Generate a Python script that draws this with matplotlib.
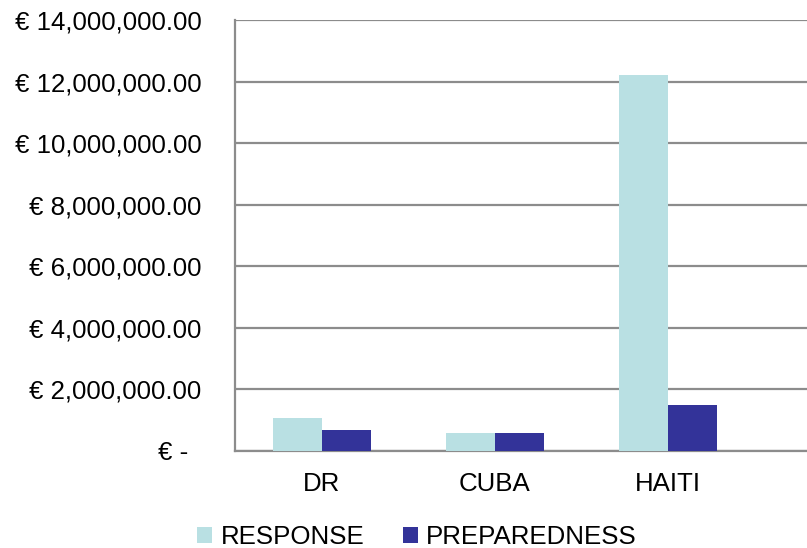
import matplotlib
matplotlib.use('Agg')
import matplotlib.pyplot as plt
import matplotlib.transforms as mtransforms
import numpy as np

plt.rcParams['font.family'] = ['Liberation Sans', 'DejaVu Sans']

# data
countries = ['DR', 'CUBA', 'HAITI']
response = [1080000, 590000, 12210000]
preparedness = [690000, 590000, 1490000]
series_names = ['RESPONSE', 'PREPAREDNESS']
yticks = [0, 2000000, 4000000, 6000000, 8000000, 10000000, 12000000, 14000000]

resp_color = '#b9e0e3'
prep_color = '#333399'
line_color = '#8c8c8c'

fig = plt.figure(figsize=(8.07, 5.48), dpi=100)
ax = fig.add_axes([235/807, 1-451/548, 1-235/807, 431/548])

x = np.arange(len(countries))
w = 0.283
ax.bar(x - w/2, response, width=w, color=resp_color, label=series_names[0], zorder=3)
ax.bar(x + w/2, preparedness, width=w, color=prep_color, label=series_names[1], zorder=3)

ax.set_xlim(-0.5, -0.5 + 572/173.3)
ax.set_ylim(0, 14000000)
ax.set_yticks(yticks)
labels = ['€ -' if v == 0 else '€ {:,.2f}'.format(v) for v in yticks]
ax.set_yticklabels(labels)
ax.set_xticks(x)
ax.set_xticklabels(countries)
ax.tick_params(axis='both', length=0, labelsize=18.6, colors='black')
ax.tick_params(axis='y', pad=24)
ax.tick_params(axis='x', pad=15)

# the zero label sits further left (accounting format padding)
zl = ax.get_yticklabels()[0]
zl.set_transform(zl.get_transform() + mtransforms.ScaledTranslation(-0.13, 0, fig.dpi_scale_trans))

ax.grid(axis='y', color=line_color, linewidth=1.6, zorder=0)
for s in ['top', 'right']:
  ax.spines[s].set_visible(False)
for s in ['left', 'bottom']:
  ax.spines[s].set_color(line_color)
  ax.spines[s].set_linewidth(1.6)

fig.legend(loc='center', bbox_to_anchor=(417/807, 1-537/548), ncol=2, frameon=False,
           fontsize=18.6, handlelength=0.58, handleheight=0.58, handletextpad=0.32, columnspacing=1.5)

fig.savefig('out.png', dpi=100)
